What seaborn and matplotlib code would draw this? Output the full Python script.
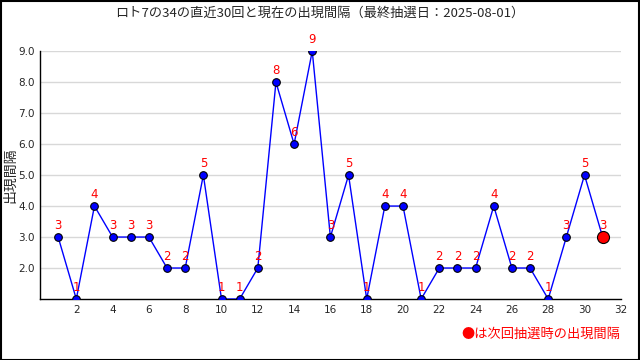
import matplotlib
matplotlib.use("Agg")
import matplotlib.pyplot as plt
import seaborn as sns
from matplotlib.ticker import MultipleLocator, FormatStrFormatter
from matplotlib.patches import Rectangle

# data: draw number index and interval
draws = list(range(1, 31))
intervals = [3, 1, 4, 3, 3, 3, 2, 2, 5, 1, 1, 2, 8, 6, 9, 3, 5, 1, 4, 4,
             1, 2, 2, 2, 4, 2, 2, 1, 3, 5]
next_draw = 31
next_interval = 3
xticks = list(range(2, 33, 2))
yticks = [2, 3, 4, 5, 6, 7, 8, 9]

title = "ロト7の34の直近30回と現在の出現間隔（最終抽選日：2025-08-01）"
ylabel = "出現間隔"
note = "●は次回抽選時の出現間隔"

sns.set_style("white")
plt.rcParams['font.family'] = ['Noto Sans CJK JP', 'DejaVu Sans']

fig = plt.figure(figsize=(6.4, 3.6), dpi=100)
ax = fig.add_axes([0.0625, 0.1694, 0.9075, 0.6886])

sns.lineplot(x=draws, y=intervals, ax=ax, color="blue", linewidth=1,
             marker="o", markersize=5.5, markerfacecolor="blue",
             markeredgecolor="black", markeredgewidth=0.8, zorder=3)
ax.plot([draws[-1], next_draw], [intervals[-1], next_interval],
        color="blue", linewidth=1, zorder=2)
sns.scatterplot(x=[next_draw], y=[next_interval], ax=ax, s=75, color="red",
                edgecolor="black", linewidth=0.8, zorder=4)

for x, y in zip(draws + [next_draw], intervals + [next_interval]):
    ax.annotate(str(y), (x, y), xytext=(0, 3.5), textcoords="offset points",
                ha="center", va="bottom", color="red", fontsize=8.5,
                family="DejaVu Sans", zorder=5)

ax.set_xlim(0, 32)
ax.set_ylim(1, 9)
ax.set_xticks(xticks)
ax.set_yticks(yticks)
ax.xaxis.set_minor_locator(MultipleLocator(1))
ax.yaxis.set_minor_locator(MultipleLocator(0.5))
ax.yaxis.set_major_formatter(FormatStrFormatter("%.1f"))
ax.tick_params(axis="both", which="major", direction="in", length=6,
               width=1, labelsize=7.5, color="black", pad=4)
ax.tick_params(axis="both", which="minor", direction="in", length=3,
               width=1, color="black")
for lab in ax.get_xticklabels() + ax.get_yticklabels():
    lab.set_family("DejaVu Sans")

ax.grid(axis="y", which="major", color="#d8d8d8", linewidth=1)
ax.set_axisbelow(True)
for side in ["top", "right"]:
    ax.spines[side].set_visible(False)
for side in ["left", "bottom"]:
    ax.spines[side].set_color("black")
    ax.spines[side].set_linewidth(1)

ax.set_ylabel("")
fig.text(10 / 640, 0.514, ylabel, rotation=90, ha="center", va="center",
         fontsize=10)

fig.text(0.5, 0.962, title, ha="center", va="center", fontsize=9.5)
fig.text(0.97, 0.072, note, ha="right", va="center", fontsize=9.5, color="red")

fig.patches.append(Rectangle((0.001, 0.001), 0.997, 0.996, transform=fig.transFigure,
                             fill=False, edgecolor="black", linewidth=1.5))

fig.savefig("out.png", dpi=100)
